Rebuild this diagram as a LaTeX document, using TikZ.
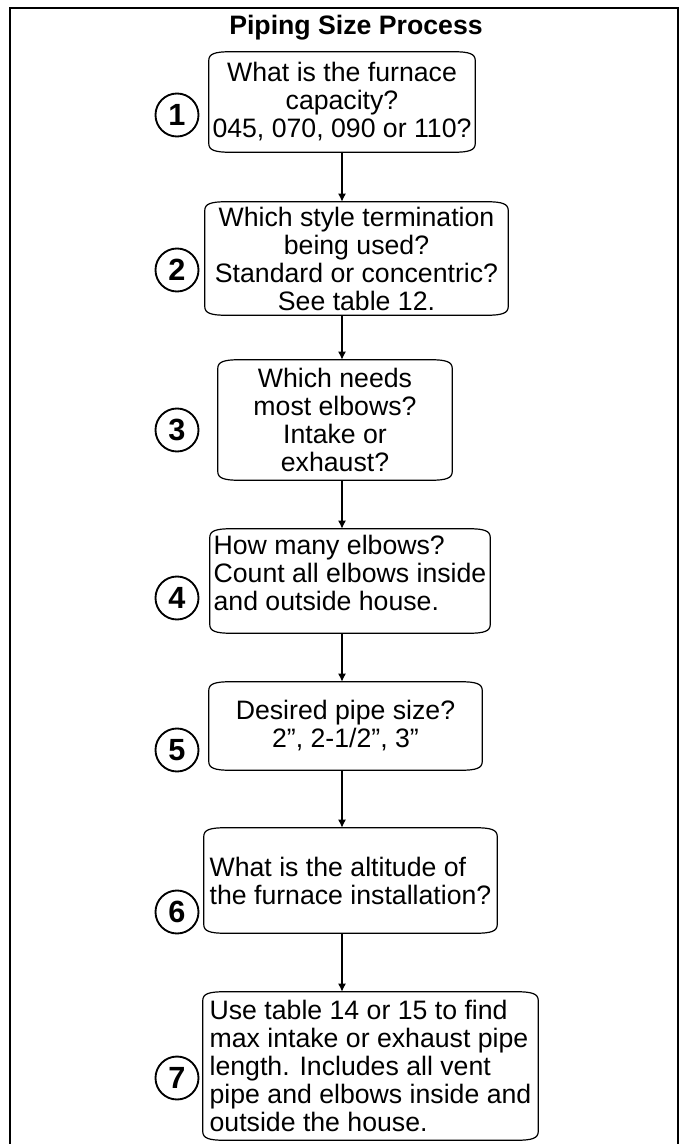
\documentclass[tikz,border=0pt]{standalone}
\usepackage{fontspec}
\setmainfont{Liberation Sans}
\usetikzlibrary{calc,arrows.meta}

\newcommand{\stepfont}{\fontsize{20}{21}\selectfont}
% outline of a step box: flat sides, flattened round corners
\newcommand{\scrollbox}[1]{%
  \draw[boxline] ($(#1.north west)+(0,9)$)
    .. controls ($(#1.north west)+(0,2)$) and ($(#1.north west)+(6,0)$) .. ($(#1.north west)+(22,0)$)
    -- ($(#1.north east)+(-22,0)$)
    .. controls ($(#1.north east)+(-6,0)$) and ($(#1.north east)+(0,2)$) .. ($(#1.north east)+(0,9)$)
    -- ($(#1.south east)+(0,-9)$)
    .. controls ($(#1.south east)+(0,-2)$) and ($(#1.south east)+(-6,0)$) .. ($(#1.south east)+(-22,0)$)
    -- ($(#1.south west)+(22,0)$)
    .. controls ($(#1.south west)+(6,0)$) and ($(#1.south west)+(0,-2)$) .. ($(#1.south west)+(0,-9)$)
    -- cycle;}

\begin{document}
\begin{tikzpicture}[x=0.75pt,y=-0.75pt,
    boxline/.style={line width=0.9pt},
    stepbox/.style={inner sep=0pt, font=\stepfont},
    stepnum/.style={circle, draw, line width=1.4pt, minimum size=32.25pt, inner sep=0pt,
      font=\fontsize{23}{23}\selectfont\bfseries},
    flow/.style={line width=1.1pt, -{Latex[length=6pt,width=6pt]}}]
    \useasboundingbox (0,0) rectangle (681,1144);
    \draw[line width=1.6pt] (10,1150) -- (10,8) -- (678,8) -- (678,1150);
    \node[anchor=base, font=\fontsize{20}{20}\selectfont\bfseries] (title) at (356,35) {Piping Size Process};

    \coordinate (ax) at (342,0);
    \node[stepbox, align=center, minimum width=199.5pt, minimum height=75pt] (b1) at (342,102)
        {What is the furnace\\capacity?\\045, 070, 090 or 110?};
    \node[stepbox, align=center, minimum width=227.25pt, minimum height=84.75pt] (b2) at (356.5,258.5)
        {Which style termination\\being used?\\Standard or concentric?\\See table 12.};
    \node[stepbox, align=center, minimum width=175.5pt, minimum height=90pt] (b3) at (335,420)
        {Which needs\\most elbows?\\Intake or\\exhaust?};
    \node[stepbox, align=left, minimum width=210pt, minimum height=78pt] (b4) at (350,581)
        {How many elbows?\\Count all elbows inside\\and outside house.\\[-9pt]};
    \node[stepbox, align=center, minimum width=204.75pt, minimum height=66pt] (b5) at (345.5,726)
        {Desired pipe size?\\2”, 2-1/2”, 3”};
    \node[stepbox, align=left, minimum width=219.75pt, minimum height=78.75pt] (b6) at (350.5,880.5)
        {What is the altitude of\\the furnace installation?};
    \node[stepbox, align=left, minimum width=251.25pt, minimum height=111pt] (b7) at (370.5,1066)
        {Use table 14 or 15 to find\\max intake or exhaust pipe\\length. Includes all vent\\pipe and elbows inside and\\outside the house.};

    \scrollbox{b1}
    \scrollbox{b2}
    \scrollbox{b3}
    \scrollbox{b4}
    \scrollbox{b5}
    \scrollbox{b6}
    \scrollbox{b7}

    \node[stepnum] (n1) at (177,115) {1};
    \node[stepnum] (n2) at (177,270) {2};
    \node[stepnum] (n3) at (177,430) {3};
    \node[stepnum] (n4) at (177,598) {4};
    \node[stepnum] (n5) at (177,750) {5};
    \node[stepnum] (n6) at (177,912) {6};
    \node[stepnum] (n7) at (177,1078) {7};

    \draw[flow] (b1.south -| ax) -- (b2.north -| ax);
    \draw[flow] (b2.south -| ax) -- (b3.north -| ax);
    \draw[flow] (b3.south -| ax) -- (b4.north -| ax);
    \draw[flow] (b4.south -| ax) -- (b5.north -| ax);
    \draw[flow] (b5.south -| ax) -- (b6.north -| ax);
    \draw[flow] (b6.south -| ax) -- (b7.north -| ax);
\end{tikzpicture}
\end{document}
